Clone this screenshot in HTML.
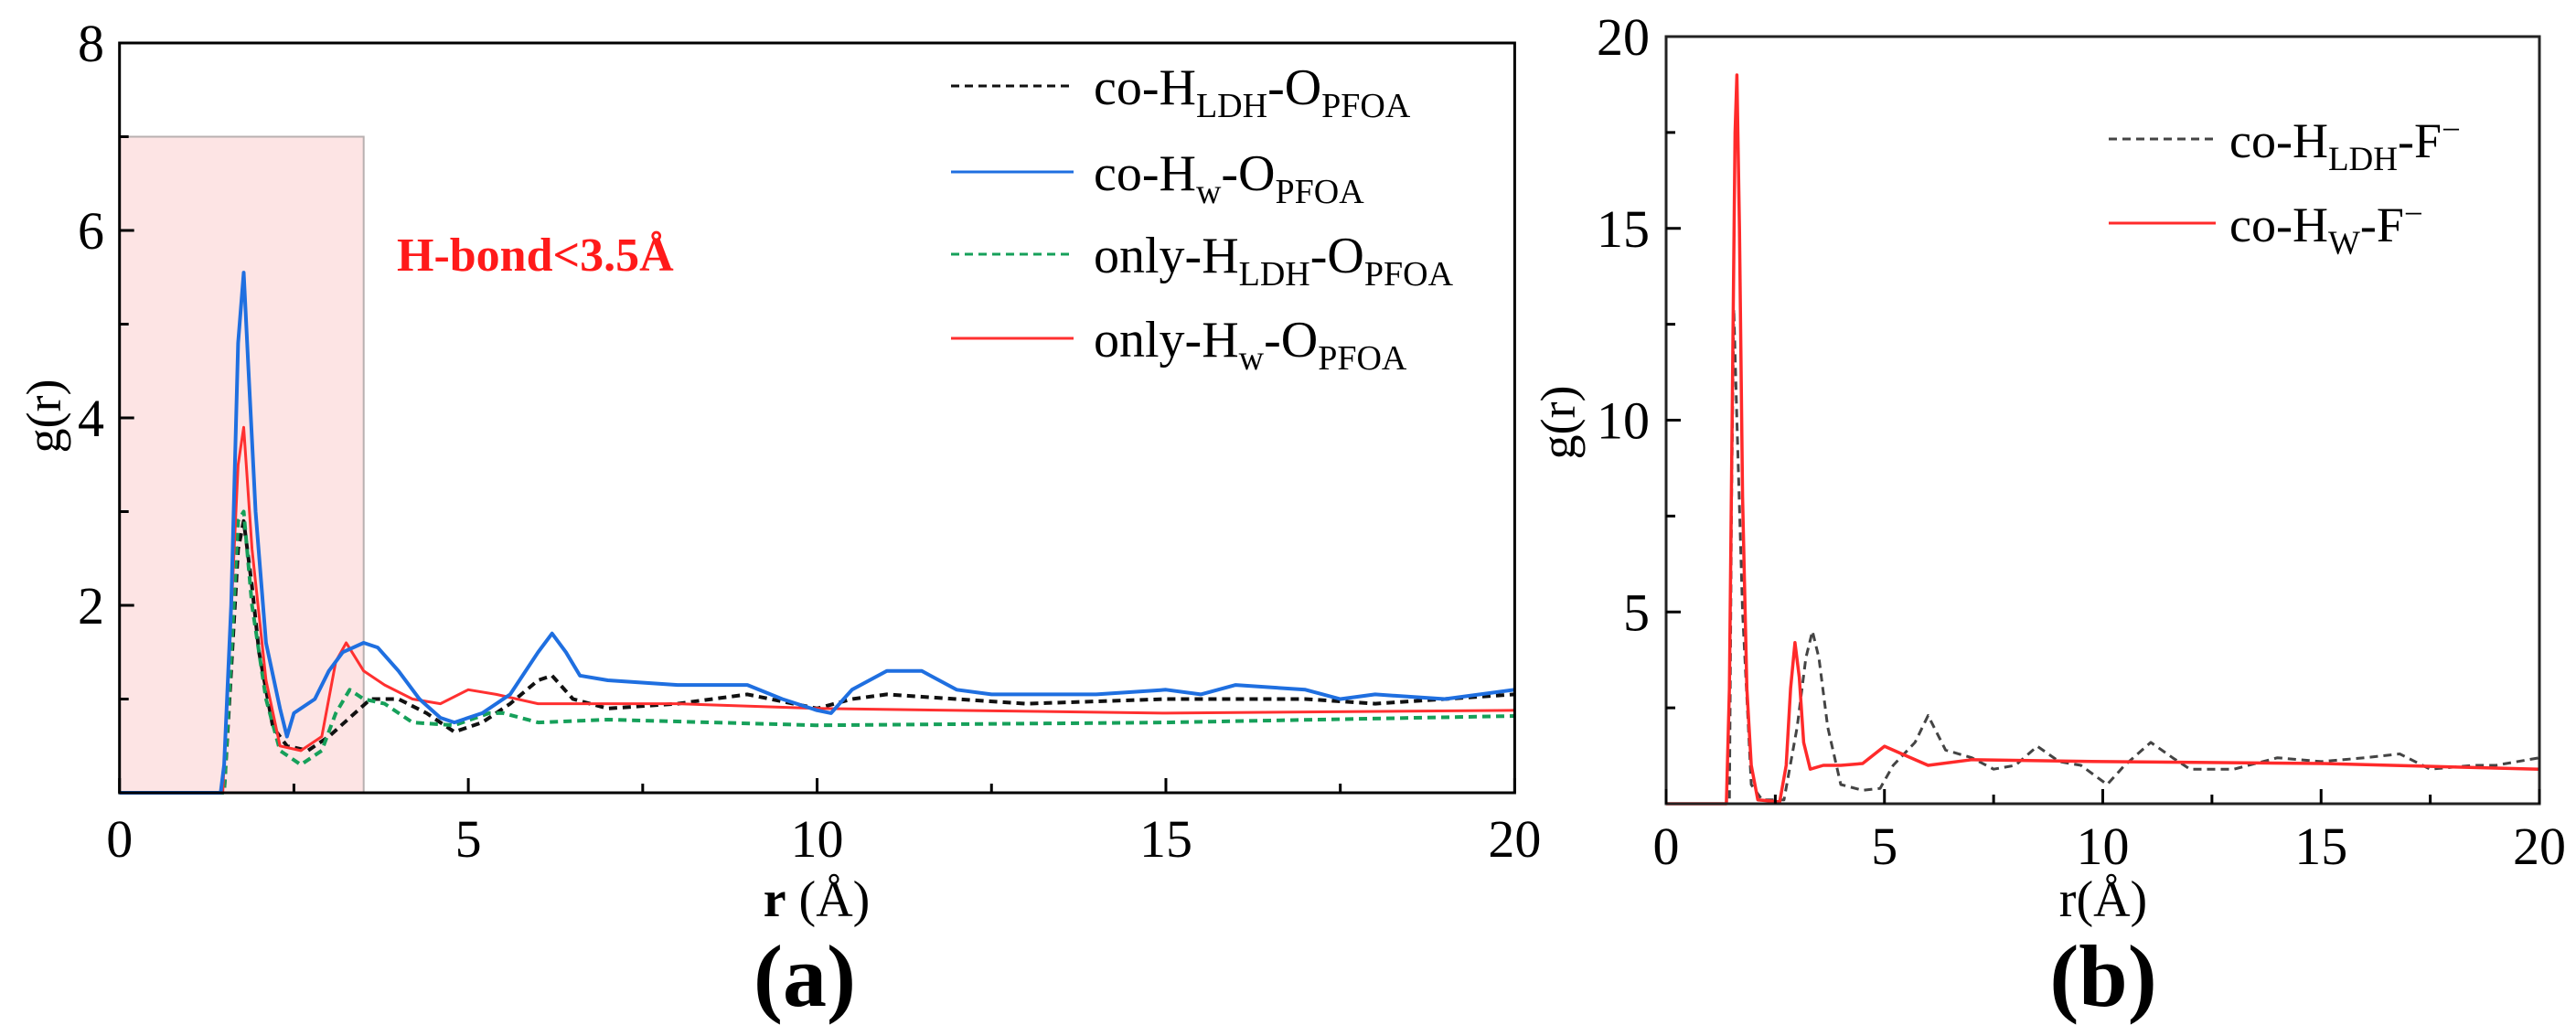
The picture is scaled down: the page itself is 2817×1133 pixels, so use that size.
<!DOCTYPE html>
<html><head><meta charset="utf-8">
<style>
html,body{margin:0;padding:0;background:#fff;}
svg{display:block;}
text{font-family:"Liberation Serif",serif;}
</style></head>
<body>
<svg id="fig" width="2817" height="1133" viewBox="0 0 2817 1133" xmlns="http://www.w3.org/2000/svg">
<g id="pa"></g>
<g id="pb"></g>
</svg>
<script>
// ---- Panel (a) data ----
const aBlueR = [0,1.45,1.5,1.6,1.7,1.78,1.85,1.95,2.1,2.3,2.4,2.5,2.8,3.0,3.2,3.5,3.7,4.0,4.3,4.6,4.8,5.2,5.6,6.0,6.2,6.4,6.6,7,8,9,9.5,10,10.2,10.5,11,11.5,12,12.5,13,14,15,15.5,16,17,17.5,18,19,20];
const aBlueG = [0,0,0.3,2.0,4.8,5.55,4.5,3.0,1.6,0.9,0.6,0.85,1.0,1.3,1.5,1.6,1.55,1.3,1.0,0.8,0.75,0.85,1.05,1.5,1.7,1.5,1.25,1.2,1.15,1.15,1.0,0.88,0.85,1.1,1.3,1.3,1.1,1.05,1.05,1.05,1.1,1.05,1.15,1.1,1.0,1.05,1.0,1.1];
const aBlackR = [0,1.5,1.7,1.78,1.9,2.0,2.2,2.4,2.7,3.0,3.3,3.6,4.0,4.4,4.8,5.2,5.6,6.0,6.2,6.5,7,8,9,10,10.5,11,12,13,15,17,18,20];
const aBlackG = [0,0,2.6,2.9,2.2,1.5,0.7,0.5,0.45,0.6,0.8,1.0,1.0,0.85,0.65,0.75,0.95,1.2,1.25,1.0,0.9,0.95,1.05,0.9,1.0,1.05,1.0,0.95,1.0,1.0,0.95,1.05];
const aGreenR = [0,1.5,1.7,1.78,1.9,2.1,2.3,2.6,2.9,3.1,3.3,3.5,3.8,4.2,4.8,5.3,5.5,6,7,10,15,20];
const aGreenG = [0,0,2.9,3.0,2.0,1.0,0.45,0.3,0.45,0.85,1.1,1.0,0.95,0.75,0.72,0.85,0.85,0.75,0.78,0.72,0.75,0.82];
const aRedR = [0,1.48,1.7,1.78,1.9,2.1,2.3,2.6,2.9,3.1,3.25,3.5,3.8,4.2,4.6,5.0,5.4,6,8,10,15,20];
const aRedG = [0,0,3.5,3.9,2.6,1.2,0.5,0.45,0.6,1.4,1.6,1.3,1.15,1.0,0.95,1.1,1.05,0.95,0.95,0.9,0.85,0.88];
const aXTicks = [0,5,10,15,20];
const aYTicks = [2,4,6,8];
// ---- Panel (b) data ----
const bRedR = [0,1.38,1.45,1.52,1.58,1.62,1.68,1.75,1.85,1.95,2.1,2.6,2.75,2.85,2.95,3.05,3.15,3.3,3.6,4,4.5,5.0,5.4,6.0,7,10,15,20];
const bRedG = [0,0,3,11,17.5,19,15,8,3,1,0.1,0.05,1,3,4.2,3.3,1.6,0.9,1.0,1.0,1.05,1.5,1.3,1.0,1.15,1.1,1.05,0.9];
const bBlackR = [0,1.45,1.5,1.55,1.62,1.75,1.95,2.2,2.7,3.0,3.2,3.35,3.5,3.7,4.0,4.5,4.9,5.2,5.7,6.0,6.4,7,7.5,8.0,8.5,9.0,9.5,10.1,10.5,11.1,11.6,12,13,14,15,16,16.8,17.5,18.5,19,20];
const bBlackG = [0,0,8,12.9,10,5,0.5,0.1,0.1,2,3.8,4.5,3.8,2.0,0.5,0.35,0.4,1.0,1.6,2.3,1.4,1.2,0.9,1.0,1.5,1.1,1.0,0.5,1.0,1.6,1.2,0.9,0.9,1.2,1.1,1.2,1.3,0.9,1.0,1.0,1.2];
const bXTicks = [0,5,10,15,20];
const bYTicks = [5,10,15,20];

const NS = "http://www.w3.org/2000/svg";
function mk(parent, tag, attrs, txt){
  const e = document.createElementNS(NS, tag);
  for (const k in attrs) e.setAttribute(k, attrs[k]);
  if (txt !== undefined) e.textContent = txt;
  parent.appendChild(e);
  return e;
}
function linePath(xs, ys, sx, sy){
  return xs.map((x,i)=>(i?'L':'M')+sx(x).toFixed(1)+' '+sy(ys[i]).toFixed(1)).join(' ');
}

// ===== Panel a =====
const pa = document.getElementById('pa');
const aX0=130.7, aX1=1656.4, aY0=867, aY1=47;
const ax = v => aX0 + (v/20)*(aX1-aX0);
const ay = v => aY0 - (v/8)*(aY0-aY1);
let el;
el = mk(pa,'rect',{x:ax(0),y:ay(7),width:ax(3.5)-ax(0),height:ay(0)-ay(7),fill:'#fde4e4',stroke:'#b8b0b0','stroke-width':2});


el = mk(pa,'text',{x:434,y:296,fill:'#ff1a1a','font-size':52,'font-weight':'bold'},'H-bond<3.5Å');


const aSeries = [
  [aBlackR,aBlackG,'#111','9,6','series-co-hldh-opfoa',4],
  [aGreenR,aGreenG,'#16a05a','9,6','series-only-hldh-opfoa',4],
  [aRedR,aRedG,'#ff3030','','series-only-hw-opfoa',3],
  [aBlueR,aBlueG,'#1f6fe0','','series-co-hw-opfoa',4]
];
aSeries.forEach(s=>{
  const p = mk(pa,'path',{d:linePath(s[0],s[1],ax,ay),fill:'none',stroke:s[2],'stroke-width':s[5],'stroke-dasharray':s[3],'stroke-linejoin':'round'});
  
  
});
el = mk(pa,'rect',{x:aX0,y:aY1,width:aX1-aX0,height:aY0-aY1,fill:'none',stroke:'#000','stroke-width':3});


for (let v=0; v<=20; v+=2.5){
  const major = v%5===0;
  const t = mk(pa,'line',{x1:ax(v),x2:ax(v),y1:aY0,y2:aY0-(major?16:10),stroke:'#000','stroke-width':3});
  
  
}
for (let v=1; v<8; v+=1){
  const major = v%2===0;
  const t = mk(pa,'line',{x1:aX0,x2:aX0+(major?16:10),y1:ay(v),y2:ay(v),stroke:'#000','stroke-width':3});
  
  
}
aXTicks.forEach(v=>{
  const t = mk(pa,'text',{x:ax(v),y:937,'font-size':58,'text-anchor':'middle'},String(v));
  
  
});
aYTicks.forEach(v=>{
  const t = mk(pa,'text',{x:114,y:ay(v)+20,'font-size':58,'text-anchor':'end'},String(v));
  
  
});
el = mk(pa,'text',{x:0,y:0,'font-size':54,'text-anchor':'middle',transform:'translate(66,455) rotate(-90)'},'g(r)');


el = mk(pa,'text',{x:893,y:1002,'font-size':56,'text-anchor':'middle'});
el.innerHTML = '<tspan font-weight="bold">r</tspan> (Å)';


el = mk(pa,'text',{x:880,y:1100,'font-size':96,'font-weight':'bold','text-anchor':'middle'},'(a)');


// legend a
const aLegY = [94,188,278,370];
const aLegDefs = [
  ['#111','9,6','co-H','LDH','legend-co-hldh-opfoa'],
  ['#1f6fe0','','co-H','w','legend-co-hw-opfoa'],
  ['#16a05a','9,6','only-H','LDH','legend-only-hldh-opfoa'],
  ['#ff3030','','only-H','w','legend-only-hw-opfoa']
];
aLegDefs.forEach((d,i)=>{
  const g = mk(pa,'g',{});
  
  
  mk(g,'line',{x1:1040,x2:1174,y1:aLegY[i],y2:aLegY[i],stroke:d[0],'stroke-width':3,'stroke-dasharray':d[1]});
  const t = mk(g,'text',{x:1196,y:aLegY[i]+20,'font-size':56});
  t.innerHTML = d[2]+'<tspan font-size="38" dy="14">'+d[3]+'</tspan><tspan dy="-14">-O</tspan><tspan font-size="38" dy="14">PFOA</tspan>';
});

// ===== Panel b =====
const pb = document.getElementById('pb');
const bX0=1822, bX1=2777, bY0=879, bY1=40;
const bx = v => bX0 + (v/20)*(bX1-bX0);
const by = v => bY0 - (v/20)*(bY0-bY1);
const bSeries = [
  [bBlackR,bBlackG,'#444','9,6','series-co-hldh-f',3],
  [bRedR,bRedG,'#ff2a2a','','series-co-hw-f',3.5]
];
bSeries.forEach(s=>{
  const p = mk(pb,'path',{d:linePath(s[0],s[1],bx,by),fill:'none',stroke:s[2],'stroke-width':s[5],'stroke-dasharray':s[3],'stroke-linejoin':'round'});
  
  
});
el = mk(pb,'rect',{x:bX0,y:bY1,width:bX1-bX0,height:bY0-bY1,fill:'none',stroke:'#222','stroke-width':3});


for (let v=0; v<=20; v+=2.5){
  const major = v%5===0;
  const t = mk(pb,'line',{x1:bx(v),x2:bx(v),y1:bY0,y2:bY0-(major?16:10),stroke:'#000','stroke-width':3});
  
  
}
for (let v=2.5; v<20; v+=2.5){
  const major = v%5===0;
  const t = mk(pb,'line',{x1:bX0,x2:bX0+(major?16:10),y1:by(v),y2:by(v),stroke:'#000','stroke-width':3});
  
  
}
bXTicks.forEach(v=>{
  const t = mk(pb,'text',{x:bx(v),y:945,'font-size':58,'text-anchor':'middle'},String(v));
  
  
});
bYTicks.forEach(v=>{
  const t = mk(pb,'text',{x:1804,y:by(v)+20,'font-size':58,'text-anchor':'end'},String(v));
  
  
});
el = mk(pb,'text',{x:0,y:0,'font-size':54,'text-anchor':'middle',transform:'translate(1722,462) rotate(-90)'},'g(r)');


el = mk(pb,'text',{x:2300,y:1002,'font-size':56,'text-anchor':'middle'},'r(Å)');


el = mk(pb,'text',{x:2300,y:1100,'font-size':96,'font-weight':'bold','text-anchor':'middle'},'(b)');


const bLegY = [152,244];
const bLegDefs = [
  ['#444','9,6','LDH','legend-co-hldh-f'],
  ['#ff2a2a','','W','legend-co-hw-f']
];
bLegDefs.forEach((d,i)=>{
  const g = mk(pb,'g',{});
  
  
  mk(g,'line',{x1:2306,x2:2423,y1:bLegY[i],y2:bLegY[i],stroke:d[0],'stroke-width':3,'stroke-dasharray':d[1]});
  const t = mk(g,'text',{x:2438,y:bLegY[i]+20,'font-size':54});
  t.innerHTML = 'co-H<tspan font-size="37" dy="14">'+d[2]+'</tspan><tspan dy="-14">-F</tspan><tspan font-size="37" dy="-18">−</tspan>';
});
</script>
</body></html>
